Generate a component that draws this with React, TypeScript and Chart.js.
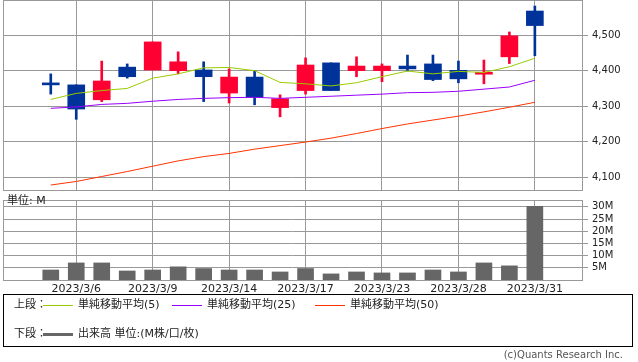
import { useEffect, useRef } from "react";
import { Chart, registerables } from "chart.js";
Chart.register(...registerables);

const dates = ["2023/3/3", "2023/3/6", "2023/3/7", "2023/3/8", "2023/3/9", "2023/3/10", "2023/3/13", "2023/3/14", "2023/3/15", "2023/3/16", "2023/3/17", "2023/3/20", "2023/3/22", "2023/3/23", "2023/3/24", "2023/3/27", "2023/3/28", "2023/3/29", "2023/3/30", "2023/3/31"];
const opens = [4360, 4360, 4318, 4410, 4402, 4400, 4402, 4337, 4382, 4296, 4344, 4422, 4400, 4400, 4413, 4419, 4401, 4390, 4439, 4568];
const highs = [4391, 4360, 4427, 4419, 4481, 4453, 4425, 4405, 4399, 4332, 4436, 4422, 4439, 4419, 4444, 4444, 4427, 4430, 4509, 4582];
const lows = [4334, 4263, 4313, 4379, 4402, 4391, 4313, 4309, 4304, 4270, 4334, 4344, 4383, 4369, 4399, 4372, 4366, 4363, 4420, 4442];
const closes = [4360, 4292, 4371, 4383, 4481, 4425, 4383, 4382, 4325, 4321, 4416, 4344, 4413, 4413, 4405, 4375, 4377, 4394, 4498, 4527];
const ma5 = [4319, 4336, 4344, 4350, 4379, 4391, 4408, 4409, 4400, 4367, 4363, 4357, 4366, 4383, 4399, 4391, 4398, 4395, 4411, 4435];
const ma25 = [4294, 4298, 4305, 4308, 4314, 4319, 4322, 4324, 4325, 4322, 4325, 4328, 4331, 4334, 4338, 4339, 4342, 4348, 4354, 4373];
const ma50 = [4078, 4088, 4102, 4116, 4131, 4146, 4158, 4167, 4179, 4189, 4199, 4210, 4223, 4237, 4250, 4261, 4272, 4284, 4297, 4311];
const volumes = [4.1, 7.0, 7.0, 3.7, 4.1, 5.4, 4.7, 4.1, 4.1, 3.3, 4.7, 2.5, 3.3, 2.9, 2.9, 4.1, 3.3, 7.0, 5.8, 30.2];
const labeledIndices = [1, 4, 7, 10, 13, 16, 19];
const priceTicks = [4100, 4200, 4300, 4400, 4500];
const volumeTicks = [5, 10, 15, 20, 25, 30];

const X_MIN = -1.875;
const X_MAX = 20.85;
const GRID = "#999999";
const TEXT = "#222222";
const UP = "#ff0033";
const DOWN = "#003399";
const FONT = "'DejaVu Sans', 'Noto Sans CJK JP', sans-serif";

const framePlugin = {
  id: "frame",
  beforeDatasetsDraw(chart: any) {
    const { ctx, chartArea: a } = chart;
    ctx.save();
    ctx.strokeStyle = GRID;
    ctx.lineWidth = 1;
    ctx.strokeRect(Math.round(a.left) + 0.5, Math.round(a.top) + 0.5, Math.round(a.right - a.left), Math.round(a.bottom - a.top));
    ctx.restore();
  },
};

function xScale(showLabels: boolean) {
  return {
    type: "linear",
    min: X_MIN,
    max: X_MAX,
    offset: false,
    grid: { color: GRID, drawTicks: false, offset: false },
    border: { display: false },
    ticks: {
      display: showLabels,
      color: TEXT,
      font: { family: FONT, size: 11 },
      padding: 3,
      maxRotation: 0,
      autoSkip: false,
      callback: (v: number) => dates[v] ?? "",
    },
    afterBuildTicks: (s: any) => {
      s.ticks = labeledIndices.map((v) => ({ value: v }));
    },
    afterFit: (s: any) => {
      s.height = showLabels ? 16 : 0;
      s.paddingLeft = 0;
      s.paddingRight = 0;
    },
  };
}

function PriceChart() {
  const ref = useRef<HTMLCanvasElement>(null);
  useEffect(() => {
    const colors = opens.map((o, i) => (closes[i] > o ? UP : DOWN));
    const chart = new Chart(ref.current!, {
      type: "bar",
      data: {
        datasets: [
          { type: "line", label: "MA5", data: ma5.map((y, i) => ({ x: i, y })), borderColor: "#99cc00", borderWidth: 1, pointRadius: 0, order: 0 },
          { type: "line", label: "MA25", data: ma25.map((y, i) => ({ x: i, y })), borderColor: "#9900ff", borderWidth: 1, pointRadius: 0, order: 0 },
          { type: "line", label: "MA50", data: ma50.map((y, i) => ({ x: i, y })), borderColor: "#ff3300", borderWidth: 1, pointRadius: 0, order: 0 },
          { type: "bar", label: "body", data: opens.map((o, i) => ({ x: i, y: [o, closes[i]] })), backgroundColor: colors, barThickness: 17, minBarLength: 2, grouped: false, order: 1 },
          { type: "bar", label: "wick", data: lows.map((l, i) => ({ x: i, y: [l, highs[i]] })), backgroundColor: colors, barThickness: 2, grouped: false, order: 2 },
        ],
      } as any,
      options: {
        responsive: false,
        animation: false,
        devicePixelRatio: 1,
        layout: { padding: { left: 3, top: 0, right: 0, bottom: 1 } },
        plugins: { legend: { display: false }, tooltip: { enabled: false } },
        scales: {
          x: xScale(false),
          y: {
            type: "linear",
            position: "right",
            min: 4064,
            max: 4599,
            grid: { color: GRID, tickLength: 6 },
            border: { display: false },
            ticks: { color: TEXT, font: { family: FONT, size: 10 }, padding: 4, callback: (v: number) => v.toLocaleString("en-US") },
            afterBuildTicks: (s: any) => {
              s.ticks = priceTicks.map((v) => ({ value: v }));
            },
            afterFit: (s: any) => {
              s.width = 56;
              s.paddingTop = 0;
              s.paddingBottom = 0;
            },
          },
        } as any,
      },
      plugins: [framePlugin],
    });
    return () => chart.destroy();
  }, []);
  return <canvas ref={ref} width={638} height={191} style={{ position: "absolute", left: 0, top: 0, width: 638, height: 191 }} />;
}

function VolumeChart() {
  const ref = useRef<HTMLCanvasElement>(null);
  useEffect(() => {
    const chart = new Chart(ref.current!, {
      type: "bar",
      data: {
        datasets: [
          { label: "出来高", data: volumes.map((y, i) => ({ x: i, y })), backgroundColor: "#666666", barThickness: 16, grouped: false },
        ],
      } as any,
      options: {
        responsive: false,
        animation: false,
        devicePixelRatio: 1,
        layout: { padding: { left: 3, top: 8, right: 0, bottom: 0 } },
        plugins: { legend: { display: false }, tooltip: { enabled: false } },
        scales: {
          x: xScale(true),
          y: {
            type: "linear",
            position: "right",
            min: 0,
            max: 32.8,
            grid: { color: GRID, tickLength: 6 },
            border: { display: false },
            ticks: { color: TEXT, font: { family: FONT, size: 10 }, padding: 4, callback: (v: number) => v + "M" },
            afterBuildTicks: (s: any) => {
              s.ticks = volumeTicks.map((v) => ({ value: v }));
            },
            afterFit: (s: any) => {
              s.width = 56;
              s.paddingTop = 0;
              s.paddingBottom = 0;
            },
          },
        } as any,
      },
      plugins: [framePlugin],
    });
    return () => chart.destroy();
  }, []);
  return <canvas ref={ref} width={638} height={104} style={{ position: "absolute", left: 0, top: 192, width: 638, height: 104 }} />;
}

function Txt({ x, cy, children, color = TEXT, size = 11, right }: any) {
  const style: any = {
    position: "absolute",
    top: cy - 7,
    height: 14,
    lineHeight: "14px",
    fontSize: size,
    fontFamily: FONT,
    color,
    whiteSpace: "nowrap",
  };
  if (right !== undefined) style.right = right;
  else style.left = x;
  return <span style={style}>{children}</span>;
}

function Line({ x, cy, color, h = 1, w = 30 }: any) {
  return <div style={{ position: "absolute", left: x, top: cy - Math.floor(h / 2), width: w, height: h, background: color }} />;
}

export default function App() {
  return (
    <div style={{ position: "absolute", left: 0, top: 0, width: 638, height: 362, background: "#fff", overflow: "hidden" }}>
      <PriceChart />
      <VolumeChart />
      <Txt x={7} cy={201}>単位: M</Txt>
      <div style={{ position: "absolute", left: 3, top: 294, width: 630, height: 53, border: "1px solid #000", boxSizing: "border-box" }} />
      <Txt x={14} cy={305}>上段：</Txt>
      <Line x={43} cy={305} color="#99cc00" />
      <Txt x={78} cy={305}>単純移動平均(5)</Txt>
      <Line x={172} cy={305} color="#9900ff" />
      <Txt x={207} cy={305}>単純移動平均(25)</Txt>
      <Line x={315} cy={305} color="#ff3300" />
      <Txt x={350} cy={305}>単純移動平均(50)</Txt>
      <Txt x={14} cy={334}>下段：</Txt>
      <Line x={43} cy={334} color="#666666" h={3} />
      <Txt x={78} cy={334}>出来高 単位:(M株/口/枚)</Txt>
      <Txt right={15} cy={355} color="#555555" size={10}>(c)Quants Research Inc.</Txt>
    </div>
  );
}
